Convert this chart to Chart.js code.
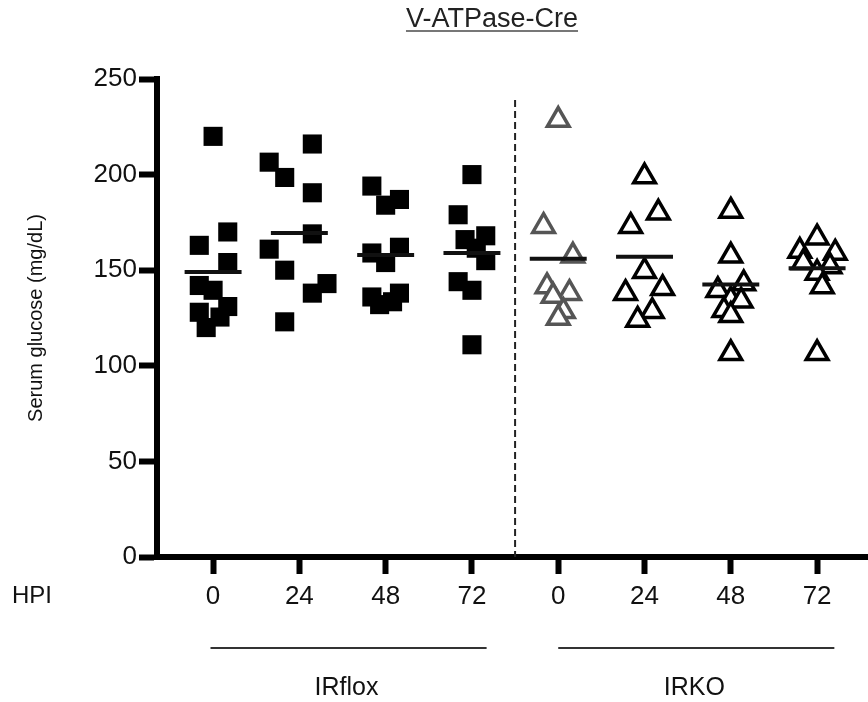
<!DOCTYPE html>
<html>
<head>
<meta charset="utf-8">
<script src="https://cdn.jsdelivr.net/npm/chart.js@4.4.1/dist/chart.umd.min.js"></script>
<style>
  html, body { margin: 0; padding: 0; background: #fff; overflow: hidden; }
  #grafico-box { width: 868px; height: 702px; }
  #chart { display: block; }
</style>
</head>
<body>
<div id="grafico-box"><canvas id="chart"></canvas></div>
<script>
// Datos: glucosa sérica (mg/dL) por hora post-infección
const horas = ['0', '24', '48', '72'];
const grupos = ['IRflox', 'IRKO'];

const irflox0 = [220, 170, 163, 154, 142, 139.5, 131, 128, 125.5, 120];
const irflox24 = [216, 206.5, 198.5, 190.5, 169, 161, 150, 143, 138, 123];
const irflox48 = [194, 187, 184, 162, 159, 154, 136, 138, 132, 133.5];
const irflox72 = [200, 179, 168, 166, 155, 144, 139.5, 111, 161.5];

const irko0 = [228.5, 173, 157.5, 141.5, 138, 136.5, 128.5, 125];
const irko24 = [199, 180, 173, 149.5, 140.5, 138, 128.5, 124];
const irko48 = [181, 157.5, 143, 139.5, 134.5, 134, 129, 126.5, 106.5];
const irko72 = [167, 160, 159, 152, 154, 148.5, 141.5, 106.5];

// desplazamiento horizontal de cada punto dentro de su columna
const jitterFlox0 = [0, 0.17, -0.16, 0.17, -0.16, 0, 0.17, -0.16, 0.08, -0.08];
const jitterFlox24 = [0.15, -0.35, -0.17, 0.15, 0.15, -0.35, -0.17, 0.32, 0.15, -0.17];
const jitterFlox48 = [-0.16, 0.16, 0, 0.16, -0.16, 0, -0.16, 0.16, -0.07, 0.08];
const jitterFlox72 = [0, -0.16, 0.16, -0.08, 0.16, -0.16, 0, 0, 0.05];
const jitterKo0 = [0, -0.17, 0.17, -0.13, 0.13, -0.06, 0.06, 0];
const jitterKo24 = [0, 0.16, -0.16, 0, 0.21, -0.22, 0.09, -0.08];
const jitterKo48 = [0, 0, 0.15, -0.15, 0, 0.12, -0.08, 0, 0];
const jitterKo72 = [0, -0.2, 0.21, 0.15, -0.16, 0, 0.06, 0];

// medias (líneas horizontales)
const mediasFlox = [149, 169.5, 158, 159];
const mediasKo = [156, 157, 142.5, 151];

const yTicks = [0, 50, 100, 150, 200, 250];

// posiciones de las columnas en el eje x
const columnas = [1, 2, 3, 4, 5, 6, 7, 8];
const etiquetasX = [...horas, ...horas];

const valoresFlox = [irflox0, irflox24, irflox48, irflox72];
const jitterFlox = [jitterFlox0, jitterFlox24, jitterFlox48, jitterFlox72];
const valoresKo = [irko0, irko24, irko48, irko72];
const jitterKo = [jitterKo0, jitterKo24, jitterKo48, jitterKo72];

const aPuntos = (valores, jitter, pos) => valores.map((v, i) => ({ x: pos + jitter[i], y: v }));

const datasets = [];

// líneas de la media, encima de los puntos
const anchoMedia = 0.33;
[...mediasFlox, ...mediasKo].forEach((m, i) => {
    datasets.push({
        type: 'line',
        data: [{ x: columnas[i] - anchoMedia, y: m }, { x: columnas[i] + anchoMedia, y: m }],
        borderColor: '#111',
        borderWidth: 4,
        pointRadius: 0,
        fill: false,
        order: 0
    });
});

valoresFlox.forEach((vals, g) => {
    datasets.push({
        data: aPuntos(vals, jitterFlox[g], columnas[g]),
        pointStyle: 'rect',
        pointRadius: 13.5,
        backgroundColor: '#000',
        borderColor: '#000',
        borderWidth: 0,
        order: 1
    });
});

valoresKo.forEach((vals, g) => {
    datasets.push({
        data: aPuntos(vals, jitterKo[g], columnas[g + 4]),
        pointStyle: 'triangle',
        pointRadius: 12.5,
        backgroundColor: '#fff',
        borderColor: g === 0 ? '#555' : '#000',
        borderWidth: 3.5,
        order: 1
    });
});

const fuente = "'Liberation Sans', Arial, Helvetica, sans-serif";

// textos y líneas extra: título subrayado, HPI, separador y grupos
const extras = {
    id: 'extras',
    afterDraw: (chart) => {
        const ctx = chart.ctx;
        const xs = chart.scales.x;
        const ys = chart.scales.y;
        ctx.save();

        // separador discontinuo
        ctx.strokeStyle = '#222';
        ctx.lineWidth = 2;
        ctx.setLineDash([7, 4]);
        ctx.beginPath();
        ctx.moveTo(xs.getPixelForValue(4.5), ys.getPixelForValue(239));
        ctx.lineTo(xs.getPixelForValue(4.5), ys.getPixelForValue(0));
        ctx.stroke();
        ctx.setLineDash([]);

        // título
        ctx.fillStyle = '#222';
        ctx.font = '27px ' + fuente;
        ctx.textAlign = 'center';
        ctx.textBaseline = 'alphabetic';
        const titulo = 'V-ATPase-Cre';
        ctx.fillText(titulo, 492, 27);
        const w = ctx.measureText(titulo).width;
        ctx.strokeStyle = '#777';
        ctx.lineWidth = 2;
        ctx.beginPath();
        ctx.moveTo(492 - w / 2, 31);
        ctx.lineTo(492 + w / 2, 31);
        ctx.stroke();

        // HPI
        ctx.font = '24px ' + fuente;
        ctx.textAlign = 'left';
        ctx.textBaseline = 'middle';
        ctx.fillStyle = '#111';
        ctx.fillText('HPI', 12, 596);

        // líneas y nombres de grupo
        const tramos = [[0.97, 4.17], [5.0, 8.2]];
        ctx.strokeStyle = '#333';
        ctx.lineWidth = 2;
        ctx.textAlign = 'center';
        ctx.font = '25px ' + fuente;
        tramos.forEach((t, i) => {
            const x1 = xs.getPixelForValue(t[0]);
            const x2 = xs.getPixelForValue(t[1]);
            ctx.beginPath();
            ctx.moveTo(x1, 648);
            ctx.lineTo(x2, 648);
            ctx.stroke();
            ctx.fillText(grupos[i], (x1 + x2) / 2 - 2, 688);
        });
        ctx.restore();
    }
};

const ctx = document.getElementById('chart').getContext('2d');
new Chart(ctx, {
    type: 'scatter',
    data: { datasets },
    options: {
        responsive: true,
        maintainAspectRatio: false,
        animation: false,
        events: [],
        layout: {
            autoPadding: false,
            padding: { top: 79, left: 0, right: 0, bottom: 0 }
        },
        plugins: {
            legend: { display: false },
            tooltip: { enabled: false }
        },
        scales: {
            x: {
                type: 'linear',
                min: 0.35,
                max: 8.59,
                afterBuildTicks: (scale) => {
                    scale.ticks = columnas.map(v => ({ value: v }));
                },
                afterFit: (scale) => {
                    scale.height = 145;
                    scale.paddingLeft = 0;
                    scale.paddingRight = 0;
                },
                ticks: {
                    callback: (v) => etiquetasX[columnas.indexOf(v)] ?? '',
                    color: '#111',
                    font: { size: 26, family: fuente },
                    padding: 7,
                    maxRotation: 0,
                    autoSkip: false
                },
                grid: {
                    drawOnChartArea: false,
                    drawTicks: true,
                    tickLength: 17,
                    tickWidth: 6,
                    tickColor: '#000'
                },
                border: { display: true, color: '#000', width: 6 }
            },
            y: {
                min: 0,
                max: 250,
                afterBuildTicks: (scale) => {
                    scale.ticks = yTicks.map(v => ({ value: v }));
                },
                afterFit: (scale) => { scale.width = 157; },
                ticks: {
                    color: '#111',
                    font: { size: 26, family: fuente },
                    padding: 2
                },
                grid: {
                    drawOnChartArea: false,
                    drawTicks: true,
                    tickLength: 18,
                    tickWidth: 6,
                    tickColor: '#000'
                },
                border: { display: true, color: '#000', width: 6 },
                title: {
                    display: true,
                    text: 'Serum glucose (mg/dL)',
                    color: '#111',
                    font: { size: 20, family: fuente },
                    padding: { top: 24, bottom: 0 }
                }
            }
        }
    },
    plugins: [extras]
});
</script>
</body>
</html>
